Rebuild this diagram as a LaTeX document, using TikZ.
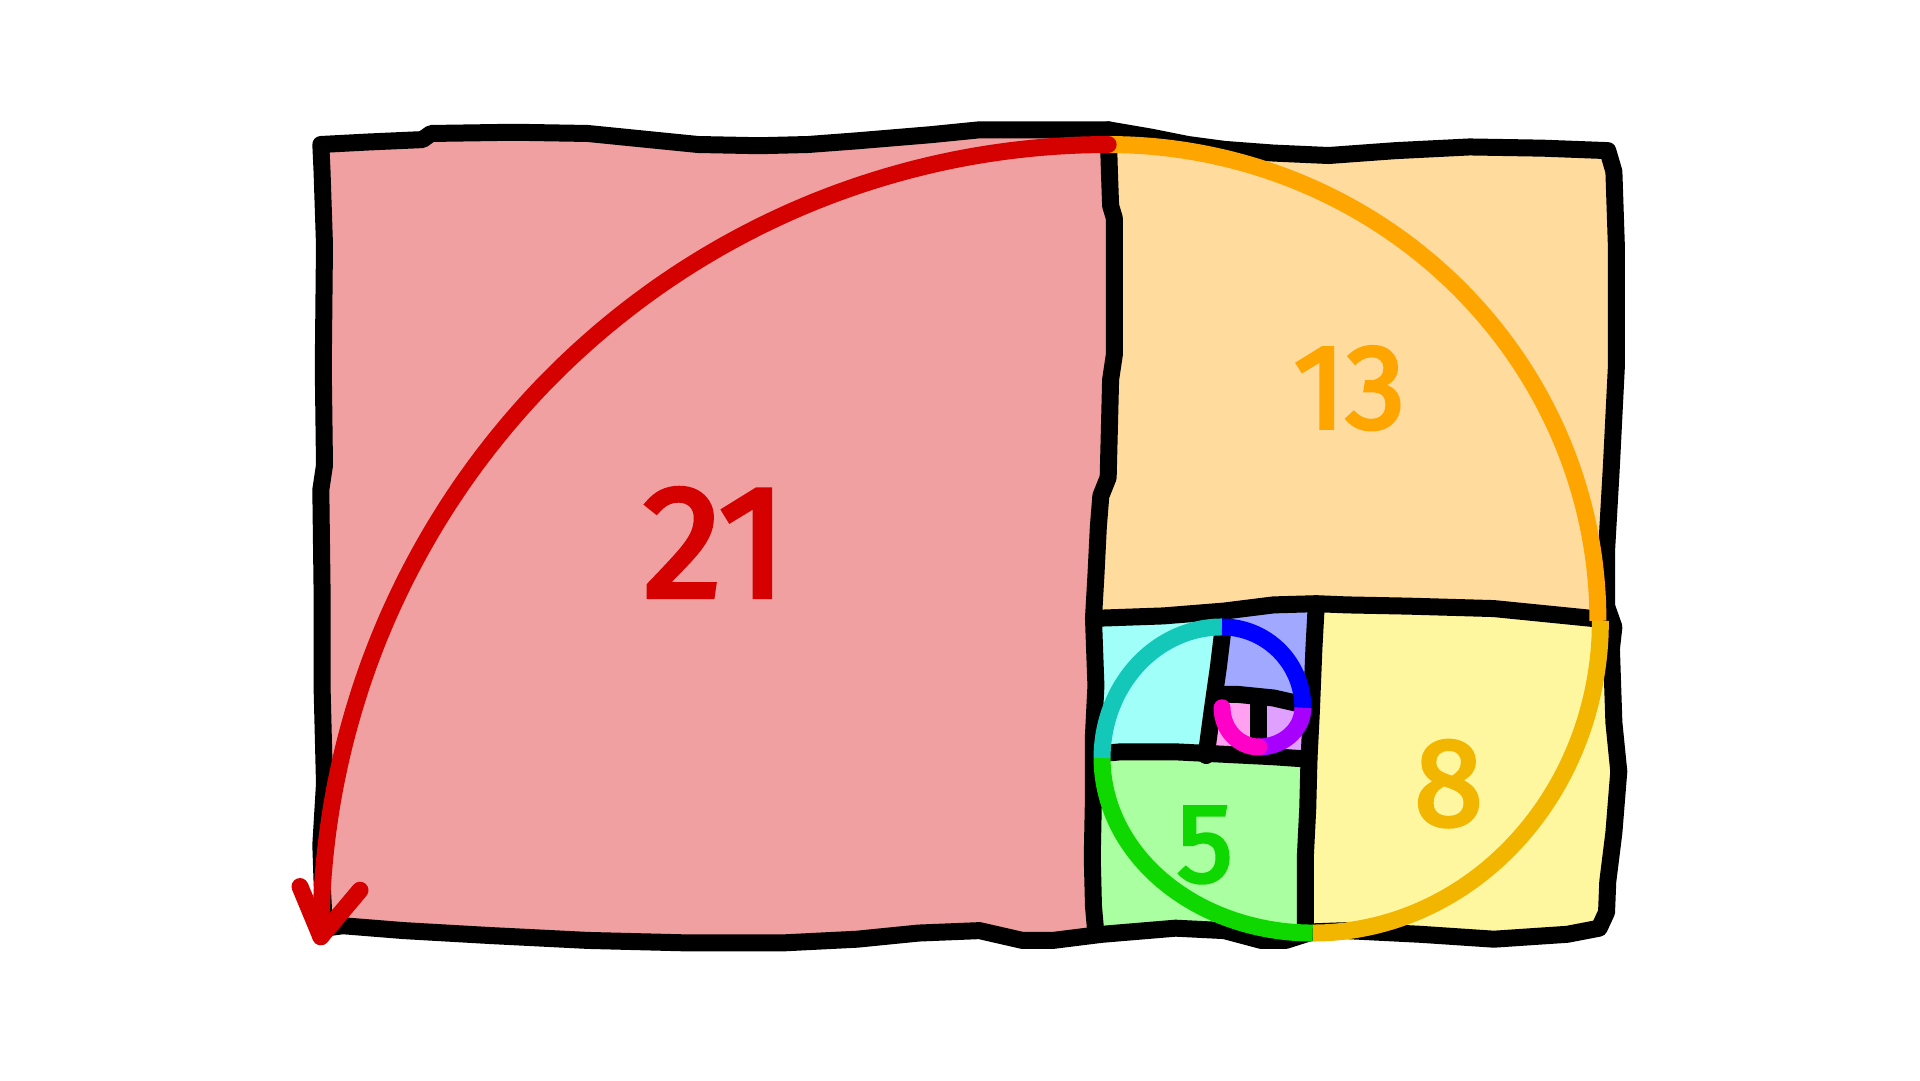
\documentclass[tikz,border=0pt]{standalone}
\usepackage{fontspec}
\newfontfamily\digitfont{Fira Sans}[FakeBold=3]
\definecolor{f21}{HTML}{F0A0A0}
\definecolor{f13}{HTML}{FFDB9E}
\definecolor{f8}{HTML}{FFF7A0}
\definecolor{f5}{HTML}{AAFFA0}
\definecolor{f3}{HTML}{A0FFF8}
\definecolor{f2}{HTML}{A0A8FF}
\definecolor{f1a}{HTML}{FFA0F0}
\definecolor{f1b}{HTML}{E0A0FF}
\definecolor{s21}{HTML}{D50000}
\definecolor{s13}{HTML}{FFA500}
\definecolor{s8}{HTML}{F2B600}
\definecolor{s5}{HTML}{0FD800}
\definecolor{s3}{HTML}{14C8B9}
\definecolor{s2}{HTML}{0000FF}
\definecolor{s1b}{HTML}{A800FF}
\definecolor{s1a}{HTML}{FF00C8}
\tikzset{
  edge/.style={draw=black, line width=17pt, line cap=round, line join=round},
  spir/.style={line width=17pt, line cap=butt},
  num/.style={inner sep=0pt},
}
\begin{document}
\begin{tikzpicture}[x=1.2245pt, y=-1.2245pt]
\useasboundingbox (0,0) rectangle (1568,882);
% ---------- fills ----------
\begin{scope}
\clip (262,118) -- (300,116) -- (345,114) -- (352,109) -- (420,108) -- (480,109) -- (510,112) -- (570,118) -- (620,119) -- (660,118) -- (700,115) -- (760,110) -- (800,106) -- (850,106) -- (905,106) -- (940,112) -- (970,118) -- (1000,122) -- (1040,125) -- (1085,127) -- (1140,123) -- (1200,120) -- (1260,121) -- (1313,123)
 -- (1318,140) -- (1320,200) -- (1320,300) -- (1316,380) -- (1312,450) -- (1312,495) -- (1318,512) -- (1316,530) -- (1318,590) -- (1322,630) -- (1318,680) -- (1313,720) -- (1312,745) -- (1306,758)
 -- (1280,763) -- (1220,767) -- (1160,763) -- (1100,760) -- (1072,761) -- (1050,768) -- (1030,768) -- (1000,760) -- (960,758) -- (900,763) -- (860,768) -- (835,768) -- (800,760) -- (750,762) -- (700,767) -- (640,770) -- (560,770) -- (480,768) -- (400,764) -- (330,760) -- (280,756) -- (265,758)
 -- (263,720) -- (262,690) -- (265,640) -- (263,560) -- (263,480) -- (262,400) -- (265,380) -- (264,300) -- (265,200) -- (263,140) -- cycle;
\fill[f21] (200,50) rectangle (1400,850);
\fill[f13] (905,50) -- (905,106) -- (906,140) -- (907,168) -- (910,178) -- (910,250) -- (910,290) -- (907,310) -- (906,350) -- (905,390) -- (899,405) -- (897,430) -- (895,470) -- (893,505) -- (950,503) -- (1000,499) -- (1040,494) -- (1075,493) -- (1100,494) -- (1150,495) -- (1220,497) -- (1240,499) -- (1300,505) -- (1316,508) -- (1400,508) -- (1400,50) -- cycle;
\fill[f8] (1075,493) -- (1100,494) -- (1150,495) -- (1220,497) -- (1240,499) -- (1300,505) -- (1316,508) -- (1400,508) -- (1400,850) -- (1066,850) -- (1066,752) -- (1066,700) -- (1068,660) -- (1069,620) -- (1071,580) -- (1073,530) -- cycle;
\fill[f5] (893,616) -- (915,614) -- (960,614) -- (1000,616) -- (1040,618) -- (1069,620) -- (1068,660) -- (1066,700) -- (1066,752) -- (1066,850) -- (895,850) -- (895,763) -- (893,740) -- (892,700) -- (893,650) -- cycle;
\fill[f3] (893,505) -- (950,503) -- (1000,499) -- (999,510) -- (995,545) -- (990,580) -- (985,617) -- (960,614) -- (915,614) -- (893,616) -- (893,600) -- (895,560) -- cycle;
\fill[f2] (1000,499) -- (1040,494) -- (1075,493) -- (1073,530) -- (1071,577) -- (1040,570) -- (1010,567) -- (992,567) -- (995,545) -- (999,510) -- cycle;
\fill[f1a] (992,567) -- (1010,567) -- (1028,569) -- (1028,617) -- (985,617) -- (988,595) -- cycle;
\fill[f1b] (1028,569) -- (1040,570) -- (1071,577) -- (1069,620) -- (1040,618) -- (1028,617) -- cycle;
\end{scope}
% ---------- black lines ----------
\draw[edge] (262,118) -- (300,116) -- (345,114) -- (352,109) -- (420,108) -- (480,109) -- (510,112) -- (570,118) -- (620,119) -- (660,118) -- (700,115) -- (760,110) -- (800,106) -- (850,106) -- (905,106) -- (940,112) -- (970,118) -- (1000,122) -- (1040,125) -- (1085,127) -- (1140,123) -- (1200,120) -- (1260,121) -- (1313,123)
 -- (1318,140) -- (1320,200) -- (1320,300) -- (1316,380) -- (1312,450) -- (1312,495) -- (1318,512) -- (1316,530) -- (1318,590) -- (1322,630) -- (1318,680) -- (1313,720) -- (1312,745) -- (1306,758)
 -- (1280,763) -- (1220,767) -- (1160,763) -- (1100,760) -- (1072,761) -- (1050,768) -- (1030,768) -- (1000,760) -- (960,758) -- (900,763) -- (860,768) -- (835,768) -- (800,760) -- (750,762) -- (700,767) -- (640,770) -- (560,770) -- (480,768) -- (400,764) -- (330,760) -- (280,756) -- (265,758)
 -- (263,720) -- (262,690) -- (265,640) -- (263,560) -- (263,480) -- (262,400) -- (265,380) -- (264,300) -- (265,200) -- (263,140) -- cycle;
\draw[edge] (905,106) -- (906,140) -- (907,168) -- (910,178) -- (910,250) -- (910,290) -- (907,310) -- (906,350) -- (905,390) -- (899,405) -- (897,430) -- (895,470) -- (893,505) -- (895,560) -- (893,600) -- (893,650) -- (892,700) -- (893,740) -- (895,763);
\draw[edge] (893,505) -- (950,503) -- (1000,499) -- (1040,494) -- (1075,493) -- (1100,494) -- (1150,495) -- (1220,497) -- (1240,499) -- (1300,505) -- (1316,508);
\draw[edge] (1075,493) -- (1073,530) -- (1071,580) -- (1069,620) -- (1068,660) -- (1066,700) -- (1066,755);
\draw[edge] (893,616) -- (915,614) -- (960,614) -- (1000,616) -- (1040,618) -- (1069,620);
\draw[edge] (999,512) -- (995,545) -- (990,580) -- (985,617);
\draw[edge] (992,567) -- (1010,567) -- (1040,570) -- (1062,575);
\draw[edge] (1028,570) -- (1028,605);
% ---------- spiral ----------
\draw[spir, s13] plot[smooth, samples=40, domain=90:0] ({905+400*cos(\x)}, {507-389*sin(\x)});
\draw[spir, s8] plot[smooth, samples=30, domain=0:-90] ({1072+235*cos(\x)}, {507-255*sin(\x)});
\draw[spir, s5] plot[smooth, samples=30, domain=-90:-180] ({1072+172*cos(\x)}, {619-143*sin(\x)});
\draw[spir, s3] plot[smooth, samples=25, domain=180:90] ({998+98*cos(\x)}, {619-107*sin(\x)});
\draw[spir, s2] plot[smooth, samples=20, domain=90:0] ({998+66*cos(\x)}, {578-66*sin(\x)});
\draw[spir, s1b] plot[smooth, samples=15, domain=0:-90] ({1028+36*cos(\x)}, {578-32*sin(\x)});
\draw[spir, s1a, line cap=round] plot[smooth, samples=15, domain=-90:-180] ({1028+30*cos(\x)}, {578-32*sin(\x)});
\draw[spir, s21, line cap=round] plot[smooth, samples=50, domain=90:180] ({905+643*cos(\x)}, {765-647*sin(\x)});
\coordinate (tip) at (262,765);
\coordinate (barbL) at (245,724);
\coordinate (barbR) at (294,727);
\draw[spir, s21, line cap=round, line join=round] (barbL) -- (tip) -- (barbR);
% ---------- numbers ----------
\node[num, text=s21, font=\digitfont\fontsize{160}{160}\selectfont] (n21) at (584,443) {21};
\node[num, text=s13, font=\digitfont\fontsize{120}{120}\selectfont] (n13) at (1102,317) {13};
\node[num, text=s8, font=\digitfont\fontsize{125}{125}\selectfont] (n8) at (1183,640) {8};
\node[num, text=s5, font=\digitfont\fontsize{112}{112}\selectfont] (n5) at (984,690) {5};
\end{tikzpicture}
\end{document}
